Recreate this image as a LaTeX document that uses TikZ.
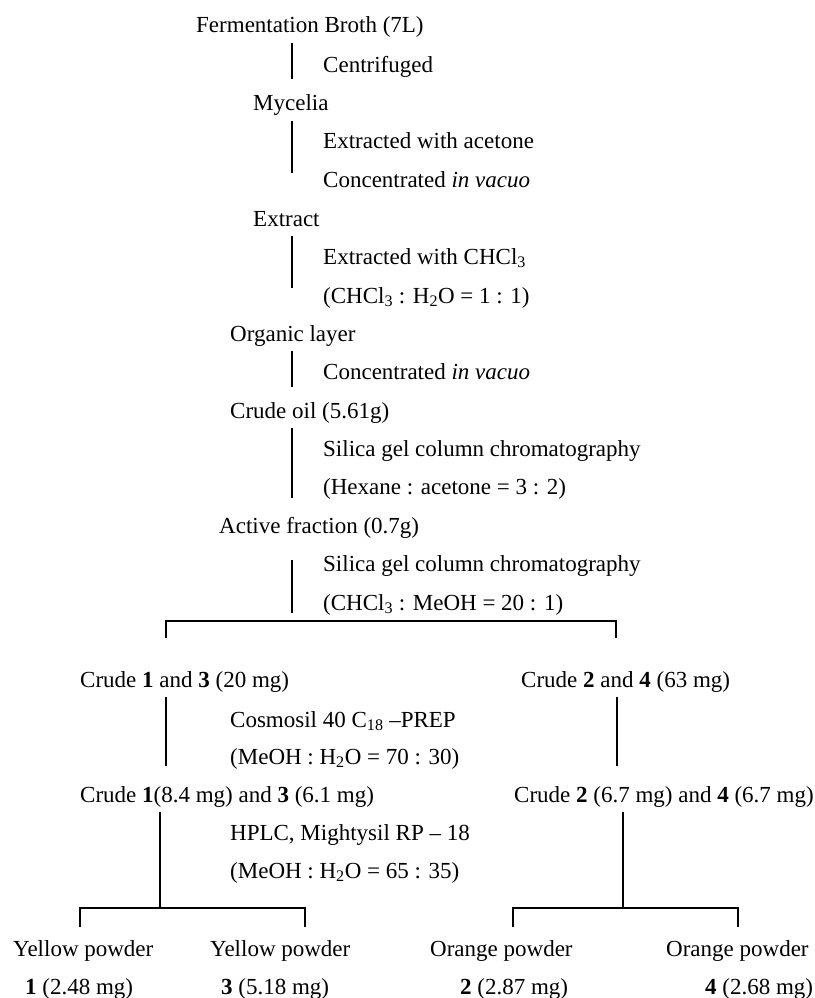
\documentclass[tikz,border=0pt]{standalone}
\usepackage{fontspec}
\setmainfont{Liberation Serif}

\begin{document}
\begin{tikzpicture}[x=1pt,y=-1pt,
    txt/.style={anchor=base west,inner sep=0pt,font=\fontsize{23}{27}\selectfont},
    ln/.style={line width=1.5pt}]
   \useasboundingbox (0,0) rectangle (814,998);
   % main column
   \path (196,33) node[txt] (broth) {Fermentation Broth (7L)};
   \path (323,72) node[txt] (cent) {Centrifuged};
   \path (253,110) node[txt] (myc) {Mycelia};
   \path (323,148) node[txt] (extac) {Extracted with acetone};
   \path (323,187) node[txt] (conc1) {Concentrated \textit{in vacuo}};
   \path (253,226) node[txt] (extr) {Extract};
   \path (323,264) node[txt] (extch) {Extracted with CHCl\textsubscript{3}};
   \path (323,303) node[txt] (ratio1) {(CHCl\textsubscript{3} : H\textsubscript{2}O = 1 : 1)};
   \path (230,341) node[txt] (org) {Organic layer};
   \path (323,379) node[txt] (conc2) {Concentrated \textit{in vacuo}};
   \path (230,418) node[txt] (oil) {Crude oil (5.61g)};
   \path (323,456) node[txt] (sil1) {Silica gel column chromatography};
   \path (323,494) node[txt] (ratio2) {(Hexane : acetone = 3 : 2)};
   \path (219,533) node[txt] (act) {Active fraction (0.7g)};
   \path (323,571) node[txt] (sil2) {Silica gel column chromatography};
   \path (323,610) node[txt] (ratio3) {(CHCl\textsubscript{3} : MeOH = 20 : 1)};
   % step lines
   \draw[ln] (292,43) coordinate (s1) -- (292,79) coordinate (e1);
   \draw[ln] (292,121) coordinate (s2) -- (292,173) coordinate (e2);
   \draw[ln] (292,236) coordinate (s3) -- (292,288) coordinate (e3);
   \draw[ln] (292,351) coordinate (s4) -- (292,387) coordinate (e4);
   \draw[ln] (292,428) coordinate (s5) -- (292,498) coordinate (e5);
   \draw[ln] (292,560) coordinate (s6) -- (292,613) coordinate (e6);
   % first split
   \draw[ln] (166,638) coordinate (sp1l) -- (166,621) -- (616,621) -- (616,638) coordinate (sp1r);
   \path (80,687) node[txt] (cr13) {Crude \textbf{1} and \textbf{3} (20 mg)};
   \path (521,687) node[txt] (cr24) {Crude \textbf{2} and \textbf{4} (63 mg)};
   \draw[ln] (166,697) -- (166,766);
   \draw[ln] (617,697) -- (617,766);
   \path (230,727) node[txt] (cosmo) {Cosmosil 40 C\textsubscript{18} --PREP};
   \path (230,764) node[txt] (ratio4) {(MeOH : H\textsubscript{2}O = 70 : 30)};
   \path (80,802) node[txt] (cr1) {Crude \textbf{1}(8.4 mg) and \textbf{3} (6.1 mg)};
   \path (514,802) node[txt] (cr2) {Crude \textbf{2} (6.7 mg) and \textbf{4} (6.7 mg)};
   \path (230,840) node[txt] (hplc) {HPLC, Mightysil RP -- 18};
   \path (230,878) node[txt] (ratio5) {(MeOH : H\textsubscript{2}O = 65 : 35)};
   % second splits
   \draw[ln] (160,812) -- (160,908);
   \draw[ln] (80,927) -- (80,908) -- (305,908) -- (305,927);
   \draw[ln] (623,812) -- (623,908);
   \draw[ln] (513,927) -- (513,908) -- (738,908) -- (738,927);
   \path (13,956) node[txt] (yel1) {Yellow powder};
   \path (210,956) node[txt] (yel3) {Yellow powder};
   \path (430,956) node[txt] (ora2) {Orange powder};
   \path (666,956) node[txt] (ora4) {Orange powder};
   \path (25,994) node[txt] (p1) {\textbf{1} (2.48 mg)};
   \path (221,994) node[txt] (p3) {\textbf{3} (5.18 mg)};
   \path (460,994) node[txt] (p2) {\textbf{2} (2.87 mg)};
   \path (705,994) node[txt] (p4) {\textbf{4} (2.68 mg)};
\end{tikzpicture}
\end{document}
